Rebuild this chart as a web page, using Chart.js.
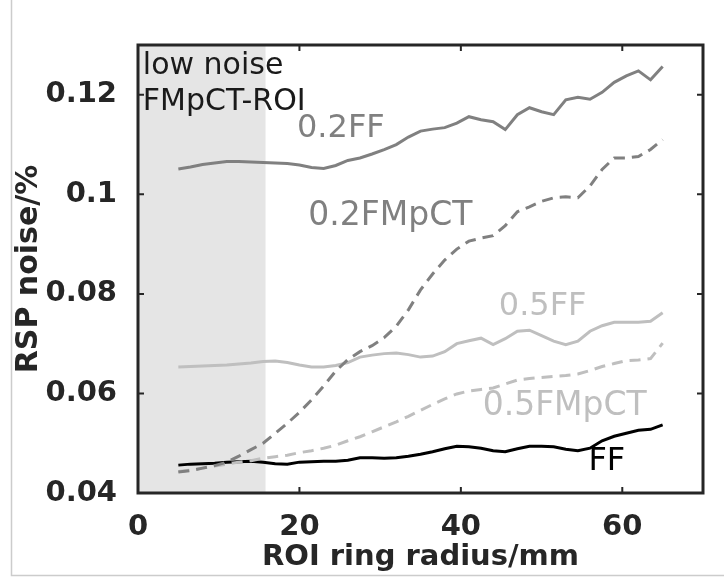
<!DOCTYPE html>
<html lang="en">
<head>
  <meta charset="UTF-8" />
  <title>RSP noise vs ROI ring radius</title>
  <style>
    body { margin: 0; padding: 0; background: #ffffff; }
    #wrap { position: relative; width: 724px; height: 577px; }
    canvas { display: block; }
  </style>
</head>
<body>
  <div id="wrap"><canvas id="noiseChart" width="724" height="577"></canvas></div>

  <script src="https://cdn.jsdelivr.net/npm/chart.js"></script>
  <script>
    // ROI ring radius (mm), 1.5 mm steps from 5 to 65
    const radius = [];
    for (let r = 5; r <= 65.001; r += 1.5) radius.push(+r.toFixed(1));

    const ff02 = [0.1051, 0.1055, 0.1060, 0.1063, 0.1066, 0.1066, 0.1065, 0.1064, 0.1063, 0.1062,
                  0.1059, 0.1054, 0.1052, 0.1058, 0.1068, 0.1073, 0.1081, 0.1090, 0.1100, 0.1115,
                  0.1127, 0.1131, 0.1134, 0.1143, 0.1156, 0.1150, 0.1146, 0.1130, 0.1160, 0.1174,
                  0.1166, 0.1160, 0.1190, 0.1195, 0.1191, 0.1205, 0.1225, 0.1238, 0.1248, 0.1230, 0.1257];
    const fmpct02 = [0.0442, 0.0445, 0.0450, 0.0455, 0.0462, 0.0474, 0.0487, 0.0500, 0.0520, 0.0540,
                     0.0562, 0.0587, 0.0615, 0.0645, 0.0668, 0.0684, 0.0696, 0.0712, 0.0735, 0.0768,
                     0.0808, 0.0840, 0.0868, 0.0890, 0.0906, 0.0912, 0.0917, 0.0937, 0.0965, 0.0975,
                     0.0986, 0.0993, 0.0995, 0.0993, 0.1017, 0.1050, 0.1073, 0.1073, 0.1076, 0.1090, 0.1110];
    const ff05 = [0.0653, 0.0654, 0.0655, 0.0656, 0.0657, 0.0659, 0.0661, 0.0664, 0.0665, 0.0662,
                  0.0657, 0.0653, 0.0653, 0.0656, 0.0662, 0.0673, 0.0677, 0.0680, 0.0681, 0.0678,
                  0.0673, 0.0675, 0.0684, 0.0700, 0.0706, 0.0711, 0.0698, 0.0710, 0.0725, 0.0727,
                  0.0716, 0.0705, 0.0698, 0.0705, 0.0725, 0.0736, 0.0743, 0.0743, 0.0743, 0.0745, 0.0762];
    const fmpct05 = [0.0443, 0.0446, 0.0450, 0.0454, 0.0458, 0.0462, 0.0465, 0.0470, 0.0473, 0.0476,
                     0.0481, 0.0485, 0.0490, 0.0496, 0.0505, 0.0513, 0.0523, 0.0533, 0.0543, 0.0554,
                     0.0566, 0.0578, 0.0589, 0.0599, 0.0605, 0.0608, 0.0611, 0.0619, 0.0627, 0.0630,
                     0.0632, 0.0634, 0.0636, 0.0639, 0.0646, 0.0654, 0.0660, 0.0666, 0.0667, 0.0670, 0.0701];
    const ffFull = [0.0456, 0.0458, 0.0459, 0.0460, 0.0462, 0.0463, 0.0464, 0.0462, 0.0459, 0.0458,
                    0.0462, 0.0463, 0.0464, 0.0464, 0.0466, 0.0471, 0.0471, 0.0470, 0.0471, 0.0474,
                    0.0478, 0.0483, 0.0489, 0.0494, 0.0493, 0.0490, 0.0485, 0.0483, 0.0489, 0.0494,
                    0.0494, 0.0493, 0.0488, 0.0485, 0.0490, 0.0505, 0.0514, 0.0520, 0.0526, 0.0528, 0.0537];

    const xTicks = [0, 20, 40, 60];
    const yTicks = [0.04, 0.06, 0.08, 0.1, 0.12];
    const roiEdge = 15.8; // extent of the low noise FMpCT-ROI (mm)

    // text labels in data units: [text, x, y, colour, size]
    const labels = [
      ['low noise', 0.6, 0.1242, '#1a1a1a', 30],
      ['FMpCT-ROI', 0.6, 0.1170, '#1a1a1a', 30],
      ['0.2FF', 19.7, 0.1116, '#808080', 32],
      ['0.2FMpCT', 21.1, 0.0939, '#808080', 33],
      ['0.5FF', 44.7, 0.0758, '#bfbfbf', 32],
      ['0.5FMpCT', 42.7, 0.0557, '#bfbfbf', 33],
      ['FF', 55.8, 0.0446, '#000000', 32]
    ];

    const pts = arr => arr.map((v, i) => ({ x: radius[i], y: v }));
    const axisColor = '#262626';
    const font = 'DejaVu Sans';

    const boxPlugin = {
      id: 'box',
      beforeDatasetsDraw(chart) {
        const { ctx, chartArea: a, scales: { x } } = chart;
        ctx.save();
        ctx.fillStyle = '#e5e5e5';
        ctx.fillRect(a.left, a.top, x.getPixelForValue(roiEdge) - a.left, a.bottom - a.top);
        ctx.restore();
      },
      afterDatasetsDraw(chart) {
        const { ctx, chartArea: a, scales: { x, y } } = chart;
        ctx.save();
        // annotations
        ctx.textAlign = 'left';
        ctx.textBaseline = 'alphabetic';
        labels.forEach(([t, lx, ly, c, s]) => {
          ctx.font = s + 'px "' + font + '"';
          ctx.fillStyle = c;
          ctx.fillText(t, x.getPixelForValue(lx), y.getPixelForValue(ly));
        });
        // inward ticks
        ctx.strokeStyle = axisColor;
        ctx.lineWidth = 2;
        ctx.beginPath();
        xTicks.forEach(v => {
          const px = x.getPixelForValue(v);
          ctx.moveTo(px, a.bottom); ctx.lineTo(px, a.bottom - 6);
          ctx.moveTo(px, a.top); ctx.lineTo(px, a.top + 6);
        });
        yTicks.forEach(v => {
          const py = y.getPixelForValue(v);
          ctx.moveTo(a.left, py); ctx.lineTo(a.left + 6, py);
          ctx.moveTo(a.right, py); ctx.lineTo(a.right - 6, py);
        });
        ctx.stroke();
        // axes box
        ctx.lineWidth = 3;
        ctx.strokeRect(a.left, a.top, a.right - a.left, a.bottom - a.top);
        // outer figure frame
        ctx.strokeStyle = '#cccccc';
        ctx.lineWidth = 1.5;
        ctx.beginPath();
        ctx.moveTo(11.5, 0); ctx.lineTo(11.5, 575.5); ctx.lineTo(724, 575.5);
        ctx.stroke();
        ctx.restore();
      }
    };

    new Chart(document.getElementById('noiseChart'), {
      type: 'line',
      data: {
        datasets: [
          { label: '0.2FF', data: pts(ff02), borderColor: '#808080' },
          { label: '0.2FMpCT', data: pts(fmpct02), borderColor: '#808080', borderDash: [11, 7] },
          { label: '0.5FF', data: pts(ff05), borderColor: '#bfbfbf' },
          { label: '0.5FMpCT', data: pts(fmpct05), borderColor: '#bfbfbf', borderDash: [11, 7] },
          { label: 'FF', data: pts(ffFull), borderColor: '#000000' }
        ]
      },
      options: {
        responsive: false,
        animation: false,
        datasets: { line: { borderWidth: 3, pointRadius: 0, tension: 0, fill: false } },
        layout: { padding: { top: 45, right: 21, bottom: 0, left: 0 } },
        plugins: { legend: { display: false }, tooltip: { enabled: false } },
        scales: {
          x: {
            type: 'linear', min: 0, max: 70,
            afterBuildTicks: s => { s.ticks = xTicks.map(v => ({ value: v })); },
            afterFit: s => { s.height = 84; },
            grid: { display: false }, border: { display: false },
            ticks: { color: axisColor, padding: 9, font: { family: font, size: 29, weight: 'bold' } },
            title: {
              display: true, text: 'ROI ring radius/mm', color: axisColor,
              font: { family: font, size: 29, weight: 'bold', lineHeight: 1 },
              padding: { top: 0, bottom: 5 }
            }
          },
          y: {
            type: 'linear', min: 0.04, max: 0.13,
            afterBuildTicks: s => { s.ticks = yTicks.map(v => ({ value: v })); },
            afterFit: s => { s.width = 138; },
            grid: { display: false }, border: { display: false },
            ticks: {
              color: axisColor, padding: 13,
              font: { family: font, size: 29, weight: 'bold' },
              callback: v => String(+v.toFixed(2))
            },
            title: {
              display: true, text: 'RSP noise/%', color: axisColor,
              font: { family: font, size: 30, weight: 'bold', lineHeight: 1 },
              padding: { top: 14, bottom: 0 }
            }
          }
        }
      },
      plugins: [boxPlugin]
    });
  </script>
</body>
</html>
